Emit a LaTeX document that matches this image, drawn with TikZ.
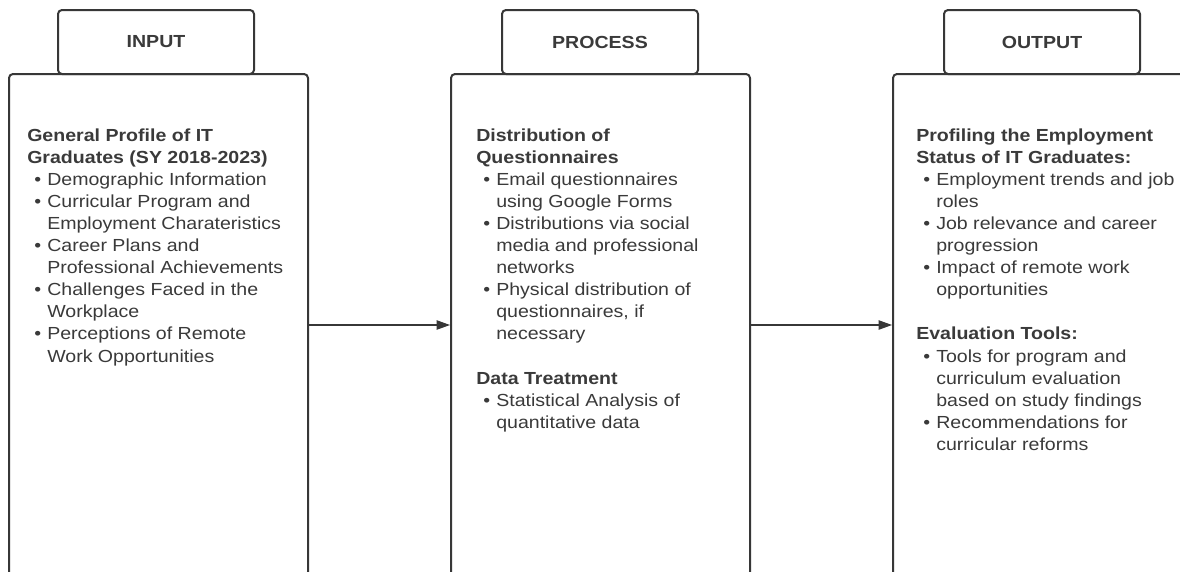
\documentclass[tikz,border=0pt]{standalone}
\usepackage{fontspec}
\setmainfont{Liberation Sans}[FakeStretch=1.12]
\usetikzlibrary{arrows.meta}
\definecolor{ink}{RGB}{58,58,58}
\definecolor{edge}{RGB}{55,55,55}
\newcommand\bul{\hspace*{5.25pt}\makebox[9.75pt][l]{•}}
\newcommand\ind{\hspace*{15pt}}
\newcommand\blankline{\mbox{}\par}
\newenvironment{coltext}{\begin{minipage}[t]{240pt}\fontsize{13.1pt}{16.575pt}\selectfont\parindent=0pt\parskip=0pt}{\end{minipage}}
\begin{document}
\begin{tikzpicture}[x=0.75pt,y=-0.75pt,
  colbox/.style={draw=edge, line width=1.5pt, rounded corners=3pt, fill=white,
    minimum width=224.25pt, minimum height=376.5pt, inner sep=0pt},
  headbox/.style={draw=edge, line width=1.5pt, rounded corners=3pt, fill=white,
    minimum width=147pt, minimum height=48pt, inner sep=0pt,
    font=\fontsize{13.1pt}{15pt}\selectfont\bfseries, text=ink},
  txt/.style={anchor=base west, inner sep=0pt, text=ink},
  flow/.style={draw=edge, line width=0.8pt, -{Triangle[length=10pt,width=7pt]}}]
\useasboundingbox (0,0) rectangle (1180,571);
\clip (0,0) rectangle (1180,571);
\node[colbox] (inbox) at (158.5,325) {};
\node[colbox] (procbox) at (600.5,325) {};
\node[colbox] (outbox) at (1042.5,325) {};
\node[headbox] (inhead) at (156,42) {INPUT};
\node[headbox] (prochead) at (600,42) {PROCESS};
\node[headbox] (outhead) at (1042,42) {OUTPUT};
\draw[flow] (inbox) -- (procbox);
\draw[flow] (procbox) -- (outbox);
\node[txt] (intext) at (27,141) {\begin{coltext}
\textbf{General Profile of IT}\par
\textbf{Graduates (SY 2018-2023)}\par
\bul Demographic Information\par
\bul Curricular Program and\par
\ind Employment Charateristics\par
\bul Career Plans and\par
\ind Professional Achievements\par
\bul Challenges Faced in the\par
\ind Workplace\par
\bul Perceptions of Remote\par
\ind Work Opportunities\par
\end{coltext}};
\node[txt] (proctext) at (476,141) {\begin{coltext}
\textbf{Distribution of}\par
\textbf{Questionnaires}\par
\bul Email questionnaires\par
\ind using Google Forms\par
\bul Distributions via social\par
\ind media and professional\par
\ind networks\par
\bul Physical distribution of\par
\ind questionnaires, if\par
\ind necessary\par
\blankline
\textbf{Data Treatment}\par
\bul Statistical Analysis of\par
\ind quantitative data\par
\end{coltext}};
\node[txt] (outtext) at (916,141) {\begin{coltext}
\textbf{Profiling the Employment}\par
\textbf{Status of IT Graduates:}\par
\bul Employment trends and job\par
\ind roles\par
\bul Job relevance and career\par
\ind progression\par
\bul Impact of remote work\par
\ind opportunities\par
\blankline
\textbf{Evaluation Tools:}\par
\bul Tools for program and\par
\ind curriculum evaluation\par
\ind based on study findings\par
\bul Recommendations for\par
\ind curricular reforms\par
\end{coltext}};
\end{tikzpicture}
\end{document}
